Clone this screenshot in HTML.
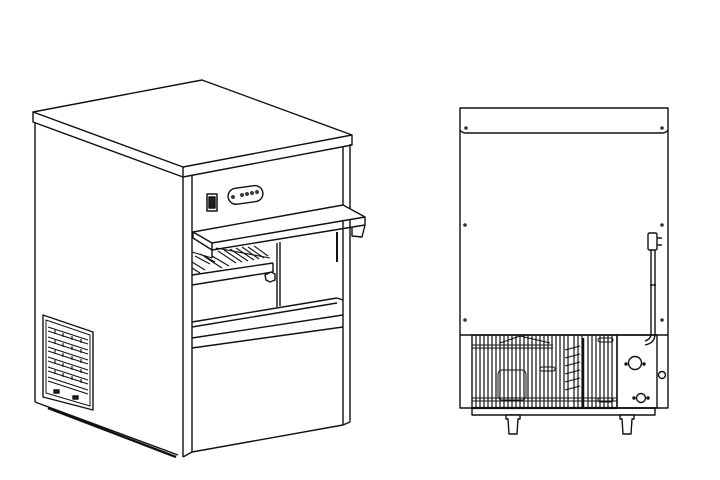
<!DOCTYPE html>
<html><head><meta charset="utf-8"><style>html,body{margin:0;padding:0;background:#fff}svg{display:block}</style></head>
<body>
<svg width="720" height="480" viewBox="0 0 720 480" xmlns="http://www.w3.org/2000/svg" fill="none" stroke="#111" stroke-width="1.4" stroke-linejoin="round">
<!-- LEFT MACHINE -->
<polygon points="33,112 202,80 352,135 183,167" fill="#fff"/>
<polyline points="33,112 33,122 183,177 352,145 352,135"/>
<line x1="183" y1="167" x2="183" y2="177"/>
<line x1="35" y1="122" x2="35" y2="402"/>
<line x1="35" y1="402" x2="178" y2="455"/>
<line x1="48" y1="408" x2="176" y2="457" stroke-width="2.4"/>
<line x1="183" y1="177" x2="183" y2="457"/>
<line x1="192" y1="175" x2="192" y2="452"/>
<line x1="343" y1="147" x2="343" y2="425"/>
<line x1="350" y1="144" x2="350" y2="422"/>
<line x1="183" y1="457" x2="192" y2="452"/>
<line x1="192" y1="452" x2="343" y2="425"/>
<line x1="343" y1="425" x2="350" y2="422"/>
<rect x="207" y="194" width="10" height="17" stroke-width="1.5"/>
<rect x="209" y="197" width="6" height="11" fill="#222"/>
<rect x="228" y="187" width="35" height="16" rx="8" transform="rotate(-8 245 195)"/>
<circle cx="233" cy="197" r="1.2"/><circle cx="242" cy="195" r="1.2"/><circle cx="247" cy="194" r="1.2"/><circle cx="252" cy="193" r="1.2"/><circle cx="257" cy="192" r="1.2"/>
<polygon points="193,232 343,205 365,217 212,243" fill="#fff"/>
<polyline points="193,232 193,238 212,250 365,225 365,217"/>
<line x1="212" y1="243" x2="212" y2="258"/>
<polyline points="352,228 352,236 362,237 365,225"/>
<g stroke-width="1.1">
<line x1="192" y1="252" x2="212" y2="258"/>
<line x1="216" y1="248" x2="270" y2="258"/>
<path d="M195,256 L210,264 M200,254 L215,262 M218,251 L236,263 M224,250 L242,262 M230,249 L248,261 M236,248 L254,260 M242,247 L259,259 M248,247 L264,258 M254,246 L268,256 M192,262 L205,270 M192,268 L200,273 M205,257 L222,268 M212,256 L229,266"/>
</g>
<line x1="192" y1="275" x2="273" y2="263"/>
<line x1="192" y1="285" x2="273" y2="272"/>
<line x1="273" y1="263" x2="273" y2="272"/>
<line x1="277" y1="243" x2="277" y2="307"/>
<line x1="280" y1="242" x2="280" y2="306"/>
<path d="M265,275 l6,-3 l4,2 l0,6 l-5,2 l-4,-2 z" fill="#fff"/>
<line x1="337" y1="232" x2="337" y2="262" stroke-width="2"/>
<line x1="192" y1="322" x2="337" y2="298"/>
<line x1="192" y1="327" x2="337" y2="303"/>
<line x1="337" y1="298" x2="343" y2="300"/>
<line x1="192" y1="338" x2="343" y2="315"/>
<line x1="192" y1="348" x2="343" y2="327"/>
<!-- side grille -->
<polygon points="43,315 93,332 93,410 43,397"/>
<polygon points="46,320 90,335 90,406 46,393" stroke-width="1"/>
<g stroke-width="1.1">
<path d="M48,327 L88,340 M48,331 L88,344 M48,337 L88,350 M48,341 L88,354 M48,347 L88,360 M48,351 L88,364 M48,357 L88,370 M48,361 L88,374 M48,367 L88,380 M48,371 L88,384 M48,377 L88,390 M48,381 L88,394"/>
<path d="M55,330v4 M63,333v4 M72,336v4 M81,339v4 M55,340v4 M63,343v4 M72,346v4 M81,349v4 M55,350v4 M63,353v4 M72,356v4 M81,359v4 M55,360v4 M63,363v4 M72,366v4 M81,369v4 M55,370v4 M63,373v4 M72,376v4 M81,379v4"/>
</g>
<rect x="54" y="390" width="5" height="3" fill="#222"/><rect x="73" y="396" width="5" height="3" fill="#222"/>

<!-- RIGHT MACHINE -->
<rect x="460" y="108" width="208" height="300"/>
<path d="M460,130 Q462,133 466,133 L662,133 Q666,133 668,130"/>
<line x1="460" y1="335" x2="668" y2="335"/>
<g fill="#333" stroke="none">
<circle cx="466" cy="128" r="1.8"/><circle cx="662" cy="128" r="1.8"/>
<circle cx="465" cy="225" r="1.8"/><circle cx="662" cy="225" r="1.8"/>
<circle cx="465" cy="320" r="1.8"/><circle cx="662" cy="320" r="1.8"/>
</g>
<rect x="648" y="233" width="9" height="17" rx="1.5"/>
<line x1="657" y1="238" x2="662" y2="238"/><line x1="657" y1="245" x2="662" y2="245"/>
<line x1="651" y1="250" x2="651" y2="334"/><line x1="655" y1="250" x2="655" y2="334"/>
<line x1="650" y1="285" x2="656" y2="285"/>
<path d="M651,334 Q651,339 645,341 M655,334 Q655,343 645,345" />
<rect x="472" y="335" width="145" height="73"/>
<g stroke-width="1.2">
<path d="M476,335V408 M480,335V408 M484,335V408 M488,335V408 M492,335V408 M496,335V408 M500,335V408 M504,335V408 M508,335V408 M512,335V408 M516,335V408 M520,335V408 M524,335V408 M528,335V408 M532,335V408 M536,335V408 M540,335V408 M544,335V408 M548,335V408 M552,335V408 M556,335V408 M560,335V408 M564,335V408 M568,335V408 M574,335V408 M578,335V408 M582,335V408 M588,335V408 M592,335V408 M596,335V408 M600,335V408 M604,335V408 M608,335V408 M612,335V408"/>
</g>
<g stroke-width="1">
<path d="M472,345H553 M472,348H553 M472,398H617 M472,401H617"/>
<path d="M500,343 L520,336 M520,336 L550,343" />
<rect x="498" y="370" width="28" height="30" rx="4"/>
<rect x="540" y="367" width="15" height="4" rx="2"/>
<path d="M565,350 L580,346 M565,358 L580,354 M565,366 L580,362 M565,374 L580,370 M565,382 L580,378 M565,390 L580,386"/>
<rect x="598" y="338" width="15" height="4" rx="2"/><rect x="598" y="398" width="15" height="4" rx="2"/>
</g>
<line x1="583" y1="338" x2="583" y2="408" stroke-width="2.5"/>
<line x1="472" y1="408" x2="617" y2="408" stroke-width="2.2"/>
<rect x="617" y="335" width="40" height="73"/>
<circle cx="635" cy="363" r="6.5"/>
<circle cx="626" cy="364" r="1" fill="#111"/><circle cx="644" cy="364" r="1" fill="#111"/>
<circle cx="641" cy="398" r="4.5"/>
<circle cx="634" cy="398" r="1" fill="#111"/><circle cx="648" cy="398" r="1" fill="#111"/>
<circle cx="662" cy="375" r="3.5"/>
<rect x="472" y="408" width="183" height="7"/>
<path d="M506,415 h14 v4 h-2 l-1,15 h-8 l-1,-15 h-2 z" fill="#fff"/>
<path d="M620,415 h14 v4 h-2 l-1,15 h-8 l-1,-15 h-2 z" fill="#fff"/>
</svg>
</body></html>
